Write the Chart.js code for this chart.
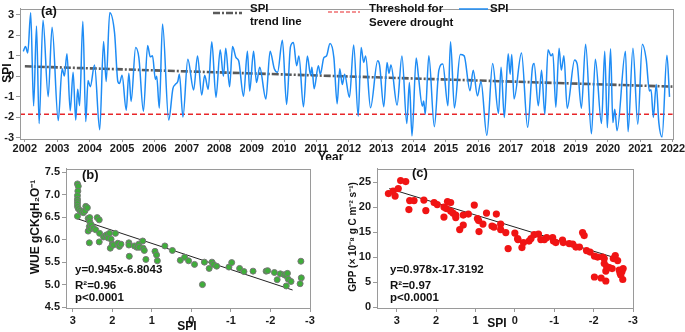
<!DOCTYPE html>
<html>
<head>
<meta charset="utf-8">
<script src="https://cdn.jsdelivr.net/npm/chart.js@4.4.1/dist/chart.umd.min.js"></script>
<style>
  html, body { margin: 0; padding: 0; background: #fff; }
  #wrap { position: relative; width: 685px; height: 332px; overflow: hidden; }
  canvas { position: absolute; }
</style>
</head>
<body>
<div id="wrap">
  <canvas id="spiChart" width="685" height="160" style="left:0;top:0"></canvas>
  <canvas id="wueChart" width="340" height="172" style="left:0;top:160px"></canvas>
  <canvas id="gppChart" width="345" height="172" style="left:340px;top:160px"></canvas>
</div>
<script>
// panel (a): monthly SPI (turning points)
const spiYears = [
  2001.95, 2002.02, 2002.09, 2002.18, 2002.27, 2002.36, 2002.44, 2002.56, 2002.72, 2002.84,
  2003.03, 2003.15, 2003.22, 2003.30, 2003.40, 2003.49, 2003.57, 2003.63, 2003.69, 2003.79,
  2003.88, 2003.95, 2004.02, 2004.15, 2004.31, 2004.43, 2004.51, 2004.62, 2004.77, 2004.87,
  2004.92, 2005.00, 2005.13, 2005.21, 2005.28, 2005.42, 2005.52, 2005.66, 2005.79, 2005.87,
  2005.94, 2006.03, 2006.07, 2006.15, 2006.25, 2006.44, 2006.57, 2006.64, 2006.72, 2006.77,
  2006.88, 2007.03, 2007.21, 2007.33, 2007.46, 2007.55, 2007.66, 2007.77, 2007.90, 2008.03,
  2008.13, 2008.20, 2008.32, 2008.41, 2008.52, 2008.60, 2008.75, 2008.87, 2008.94, 2009.06,
  2009.15, 2009.25, 2009.44, 2009.57, 2009.70, 2009.80, 2009.95, 2010.08, 2010.20, 2010.29,
  2010.39, 2010.46, 2010.60, 2010.72, 2010.82, 2010.86, 2010.93, 2011.06, 2011.12, 2011.23,
  2011.31, 2011.42, 2011.54, 2011.64, 2011.72, 2011.80, 2011.87, 2012.02, 2012.15, 2012.29,
  2012.38, 2012.46, 2012.52, 2012.67, 2012.89, 2012.95, 2013.08, 2013.18, 2013.24, 2013.30,
  2013.49, 2013.64, 2013.79, 2013.87, 2013.95, 2014.08, 2014.15, 2014.27, 2014.31, 2014.36,
  2014.47, 2014.64, 2014.78, 2014.90, 2015.06, 2015.14, 2015.26, 2015.44, 2015.56, 2015.74,
  2015.84, 2015.97, 2016.08, 2016.26, 2016.44, 2016.62, 2016.70, 2016.80, 2016.92, 2016.98,
  2017.03, 2017.10, 2017.33, 2017.52, 2017.67, 2017.72, 2017.85, 2017.95, 2018.05, 2018.15,
  2018.24, 2018.30, 2018.39, 2018.49, 2018.56, 2018.64, 2018.74, 2018.97, 2019.05, 2019.18,
  2019.31, 2019.49, 2019.61, 2019.80, 2019.90, 2019.98, 2020.08, 2020.15, 2020.21, 2020.28,
  2020.54, 2020.62, 2020.77, 2020.92, 2021.06, 2021.18, 2021.28, 2021.33, 2021.40, 2021.49,
  2021.57, 2021.67, 2021.82, 2021.90
];
const spiValues = [
  1.22, 1.45, 1.14, 3.1, -1.44, 2.45, -2.3, 2.73, -0.99, 2.39,
  -2.15, 0.37, 0.02, 1.1, -1.68, 0.2, -2.13, -0.63, -1.43, 2.68,
  -2.2, -0.2, -0.5, 0.55, -2.6, 1.7, -0.25, 3.1, 2.1, -0.25,
  -0.35, 0.05, -1.65, 0.15, -1.22, 1.4, 0.9, -1.7, 1.5, 0.95,
  1.0, -0.15, 0.0, -1.55, 2.55, -2.13, -0.6, -0.4, -0.25, 0.1,
  -1.98, 0.83, -0.66, 0.99, -0.91, 0.05, -0.63, 1.68, -1.02, 1.3,
  0.0, 1.37, -0.51, 1.45, 0.91, 0.76, -0.97, 1.22, -0.71, 1.22,
  -0.3, 0.45, -1.1, 1.22, 0.37, 0.2, 1.76, -1.37, 1.45, 1.65,
  0.52, 0.99, -1.48, 0.99, 0.06, 0.45, -0.6, 0.52, 0.1, 0.91,
  0.99, 1.6, 0.9, -1.33, 0.37, -0.4, 0.1, -1.02, 1.53, -1.94,
  1.4, 0.68, 0.99, -1.53, 0.76, 0.55, -1.48, 0.68, 0.15, 0.55,
  -1.4, 0.99, -2.3, -0.3, -2.9, 0.9, 0.0, -1.45, -1.2, -1.84,
  1.0, -2.45, 0.3, 0.6, -1.43, 1.68, -1.54, 1.06, 1.0, -0.7,
  0.3, -0.95, -0.25, -2.87, 0.63, -1.8, 0.45, -2.0, 1.1, 0.1,
  1.06, -1.1, 1.14, -2.48, 0.45, 0.63, -1.43, 0.3, -1.85, 1.3,
  1.0, 1.1, -1.5, 1.37, 0.3, 1.0, -1.55, 0.8, 0.6, -1.55,
  1.56, -2.8, 0.83, -2.3, 1.22, -2.5, 1.34, -2.25, -1.6, -2.65,
  1.22, -2.7, 1.37, -2.33, 1.56, 0.83, -0.71, -0.65, -2.0, -0.4,
  -2.25, -2.95, 1.03, -1.0
];
const trendYears = [2002, 2022];
const trendValues = [0.49, -0.5];
const thresholdYears = [2001.85, 2022];
const thresholdValues = [-1.85, -1.85];
const yearTicks = [2002, 2003, 2004, 2005, 2006, 2007, 2008, 2009, 2010, 2011, 2012,
  2013, 2014, 2015, 2016, 2017, 2018, 2019, 2020, 2021, 2022];
const spiTicks = [-3, -2, -1, 0, 1, 2, 3];

// panel (b): WUE against SPI
const wueSpi = [
  2.88, 2.86, 2.87, 2.88, 2.88, 2.88, 2.88, 2.88, 2.86, 2.82,
  2.88, 2.78, 2.73, 2.69, 2.67, 2.63, 2.61, 2.57, 2.57, 2.58,
  2.61, 2.55, 2.53, 2.58, 2.48, 2.42, 2.38, 2.33, 2.32, 2.33,
  2.22, 2.17, 2.13, 2.11, 2.07, 2.03, 2.00, 2.05, 1.97, 1.92,
  1.86, 1.82, 1.78, 1.58, 1.58, 1.57, 1.44, 1.38, 1.33, 1.32,
  1.23, 1.22, 1.19, 1.15, 0.92, 0.88, 0.86, 0.67, 0.48, 0.28,
  0.17, 0.07, -0.08, -0.28, -0.33, -0.45, -0.52, -0.56, -0.64, -0.95,
  -1.02, -1.22, -1.33, -1.56, -1.89, -1.93, -2.10, -2.17, -2.25, -2.35,
  -2.39, -2.40, -2.43, -2.45, -2.52, -2.77, -2.78, -2.75
];
const wueValues = [
  7.24, 7.19, 7.08, 6.98, 6.90, 6.85, 6.80, 6.74, 6.69, 6.65,
  6.52, 6.62, 6.60, 6.64, 6.74, 6.71, 6.47, 6.49, 6.40, 6.29,
  6.19, 6.24, 6.33, 5.93, 6.26, 6.22, 6.49, 6.44, 6.14, 5.95,
  6.06, 6.09, 6.11, 6.04, 6.14, 6.01, 5.90, 5.81, 5.88, 6.14,
  5.92, 5.85, 5.90, 5.93, 5.88, 5.63, 5.86, 5.83, 5.90, 5.83,
  5.97, 5.81, 5.76, 5.56, 5.74, 5.66, 5.53, 5.86, 5.76, 5.54,
  5.61, 5.53, 5.45, 5.00, 5.50, 5.36, 5.50, 5.45, 5.41, 5.39,
  5.49, 5.36, 5.29, 5.30, 5.30, 5.31, 5.27, 5.11, 5.24, 5.22,
  5.20, 4.97, 5.25, 5.12, 5.07, 5.52, 5.15, 5.02
];
const wueFitSpi = [2.9, -2.56];
const wueFitValues = [6.47, 4.88];
const wueTicks = [4.5, 5.0, 5.5, 6.0, 6.5, 7.0, 7.5];

// panel (c): GPP against SPI
const gppSpi = [
  3.21, 3.09, 3.04, 2.96, 2.90, 2.77, 2.69, 2.67, 2.56, 2.31,
  2.26, 2.05, 1.97, 1.80, 1.80, 1.74, 1.71, 1.63, 1.63, 1.57,
  1.50, 1.50, 1.40, 1.31, 1.31, 1.18, 1.03, 0.95, 0.92, 0.91,
  0.81, 0.72, 0.58, 0.53, 0.47, 0.36, 0.36, 0.23, 0.17, 0.00,
  -0.07, -0.08, -0.18, -0.22, -0.36, -0.41, -0.49, -0.60, -0.66, -0.75,
  -0.81, -0.96, -0.98, -1.04, -1.21, -1.23, -1.38, -1.47, -1.55, -1.64,
  -1.72, -1.76, -1.82, -1.91, -2.02, -2.02, -2.10, -2.19, -2.23, -2.27,
  -2.27, -2.31, -2.31, -2.33, -2.40, -2.47, -2.50, -2.55, -2.61, -2.65,
  -2.67, -2.72, -2.74, -2.75, -2.69
];
const gppValues = [
  22.7, 23.2, 22.2, 23.7, 25.3, 25.1, 19.5, 21.3, 21.3, 21.4,
  19.3, 20.9, 20.5, 18.0, 20.0, 19.7, 21.1, 20.9, 19.2, 18.8,
  18.4, 17.9, 15.5, 16.4, 18.4, 18.6, 20.4, 17.7, 17.3, 15.1,
  16.6, 18.8, 16.2, 16.0, 18.6, 16.6, 15.5, 14.9, 11.7, 14.8,
  13.7, 13.5, 11.9, 12.9, 13.2, 13.7, 14.5, 14.6, 13.5, 13.5,
  13.9, 13.9, 13.2, 12.9, 13.4, 12.9, 12.7, 12.6, 12.0, 12.0,
  14.9, 14.3, 11.3, 11.0, 10.2, 6.0, 10.0, 5.8, 10.0, 9.7,
  8.7, 7.2, 5.2, 8.1, 7.9, 7.7, 9.7, 10.3, 9.3, 7.4,
  6.8, 7.1, 5.5, 7.7, 6.4
];
const gppFitSpi = [3.19, -2.65];
const gppFitValues = [23.7, 9.6];
const gppTicks = [0, 5, 10, 15, 20, 25];
const scatterSpiTicks = [-3, -2, -1, 0, 1, 2, 3];

const FONT = '"Liberation Sans", Arial, sans-serif';
const tickFont = { family: FONT, size: 11, weight: 'bold' };
const AXIS_COLOR = '#9a9a9a';

const toPoints = (xs, ys) => xs.map((x, i) => ({ x: x, y: ys[i] }));

// draws the plot frame, free text and hand made legend entries
function decor(texts, legend) {
  return {
    id: 'decor',
    afterDraw(chart) {
      const { ctx, chartArea: a } = chart;
      ctx.save();
      ctx.strokeStyle = AXIS_COLOR;
      ctx.lineWidth = 1;
      ctx.strokeRect(Math.round(a.left) + 0.5, Math.round(a.top) + 0.5,
        Math.round(a.right - a.left), Math.round(a.bottom - a.top));
      (legend || []).forEach(l => {
        ctx.beginPath();
        ctx.strokeStyle = l.color;
        ctx.lineWidth = l.width;
        ctx.setLineDash(l.dash || []);
        ctx.moveTo(l.x1, l.y);
        ctx.lineTo(l.x2, l.y);
        ctx.stroke();
      });
      ctx.setLineDash([]);
      ctx.fillStyle = '#111';
      ctx.textBaseline = 'middle';
      texts.forEach(t => {
        ctx.font = (t.size ? 'bold ' + t.size + 'px ' : 'bold 12px ') + FONT;
        if (t.rotate) {
          ctx.save();
          ctx.textAlign = 'center';
          ctx.translate(t.x, t.y);
          ctx.rotate(-Math.PI / 2);
          ctx.fillText(t.text, 0, 0);
          ctx.restore();
        } else {
          ctx.textAlign = t.align || 'left';
          ctx.fillText(t.text, t.x, t.y);
        }
      });
      ctx.restore();
    }
  };
}

function axis(min, max, ticks, fmt, fit, extra, tick) {
  const t = tick || { len: 4, pad: 2 };
  return Object.assign({
    type: 'linear',
    min: min,
    max: max,
    afterBuildTicks: s => { s.ticks = ticks.map(v => ({ value: v })); },
    afterFit: fit,
    ticks: { autoSkip: false, maxRotation: 0, padding: t.pad, font: tickFont, color: '#1a1a1a', callback: fmt },
    grid: { drawOnChartArea: false, tickLength: t.len, color: AXIS_COLOR },
    border: { color: AXIS_COLOR }
  }, extra || {});
}

// (a) SPI time series
new Chart(document.getElementById('spiChart').getContext('2d'), {
  type: 'scatter',
  data: {
    datasets: [
      {
        label: 'SPI',
        data: toPoints(spiYears, spiValues),
        showLine: true,
        borderColor: '#1e8cf5',
        borderWidth: 1.5,
        pointRadius: 0,
        cubicInterpolationMode: 'monotone'
      },
      {
        label: 'Threshold for Severe drought',
        data: toPoints(thresholdYears, thresholdValues),
        showLine: true,
        borderColor: '#e8262a',
        borderWidth: 1.5,
        borderDash: [5, 3],
        pointRadius: 0
      },
      {
        label: 'SPI trend line',
        data: toPoints(trendYears, trendValues),
        showLine: true,
        borderColor: '#5a5a5a',
        borderWidth: 2.6,
        borderDash: [7, 2, 2, 2],
        pointRadius: 0
      }
    ]
  },
  options: {
    responsive: false,
    animation: false,
    layout: { padding: { top: 2, right: 11, left: 0, bottom: 0 } },
    plugins: { legend: { display: false }, tooltip: { enabled: false } },
    scales: {
      x: axis(2001.85, 2022, yearTicks, v => String(v), s => { s.height = 21; }, null, { len: 3, pad: 0 }),
      y: axis(-3.05, 3.3, spiTicks, v => String(v), s => { s.width = 20; })
    }
  },
  plugins: [decor([
    { text: '(a)', x: 41, y: 11, size: 13 },
    { text: 'SPI', x: 8, y: 73, rotate: true },
    { text: 'Year', x: 318, y: 158 },
    { text: 'SPI', x: 250, y: 9, size: 11.5 },
    { text: 'trend line', x: 250, y: 22, size: 11.5 },
    { text: 'Threshold for', x: 369, y: 9, size: 11.5 },
    { text: 'Severe drought', x: 369, y: 23, size: 11.5 },
    { text: 'SPI', x: 490, y: 9, size: 11.5 }
  ], [
    { x1: 213, x2: 242, y: 13, color: '#5a5a5a', width: 2.6, dash: [7, 2, 2, 2] },
    { x1: 328, x2: 360, y: 12, color: '#e8262a', width: 1.2, dash: [4, 2] },
    { x1: 459, x2: 488, y: 9, color: '#1e8cf5', width: 1.5 }
  ])]
});

// (b) WUE vs SPI
new Chart(document.getElementById('wueChart').getContext('2d'), {
  type: 'scatter',
  data: {
    datasets: [
      {
        label: 'WUE',
        data: toPoints(wueSpi, wueValues),
        pointRadius: 3,
        pointBackgroundColor: '#3fae3a',
        pointBorderColor: '#777',
        pointBorderWidth: 1
      },
      {
        label: 'fit',
        data: toPoints(wueFitSpi, wueFitValues),
        showLine: true,
        borderColor: '#222',
        borderWidth: 1,
        pointRadius: 0
      }
    ]
  },
  options: {
    responsive: false,
    animation: false,
    layout: { padding: { top: 3, right: 30, left: 0, bottom: 0 } },
    plugins: { legend: { display: false }, tooltip: { enabled: false } },
    scales: {
      x: axis(-3, 3.17, scatterSpiTicks, v => String(v), s => { s.height = 24; }, { reverse: true }),
      y: axis(4.48, 7.58, wueTicks, v => v.toFixed(1), s => { s.width = 66; })
    }
  },
  plugins: [decor([
    { text: '(b)', x: 82, y: 15, size: 13 },
    { text: 'WUE gCKgH\u2082O\u207B\u00B9', x: 36, y: 67, rotate: true },
    { text: 'y=0.945x-6.8043', x: 75, y: 110, size: 11.5 },
    { text: 'R\u00B2=0.96', x: 75, y: 126, size: 11.5 },
    { text: 'p<0.0001', x: 75, y: 138, size: 11.5 },
    { text: 'SPI', x: 187, y: 167, align: 'center' }
  ])]
});

// (c) GPP vs SPI
new Chart(document.getElementById('gppChart').getContext('2d'), {
  type: 'scatter',
  data: {
    datasets: [
      {
        label: 'GPP',
        data: toPoints(gppSpi, gppValues),
        pointRadius: 3.6,
        pointBackgroundColor: '#f01414',
        pointBorderWidth: 0
      },
      {
        label: 'fit',
        data: toPoints(gppFitSpi, gppFitValues),
        showLine: true,
        borderColor: '#222',
        borderWidth: 1,
        pointRadius: 0
      }
    ]
  },
  options: {
    responsive: false,
    animation: false,
    layout: { padding: { top: 3, right: 52, left: 0, bottom: 0 } },
    plugins: { legend: { display: false }, tooltip: { enabled: false } },
    scales: {
      x: axis(-3, 3.5, scatterSpiTicks, v => String(v), s => { s.height = 24; }, { reverse: true }),
      y: axis(-0.2, 27.7, gppTicks, v => String(v), s => { s.width = 37; })
    }
  },
  plugins: [decor([
    { text: '(c)', x: 72, y: 13, size: 13 },
    { text: 'GPP (\u00D7 10\u207B\u2078 g C m\u207B\u00B2 s\u207B\u00B9)', x: 13, y: 77, rotate: true, size: 10 },
    { text: 'y=0.978x-17.3192', x: 50, y: 110, size: 11.5 },
    { text: 'R\u00B2=0.97', x: 50, y: 126, size: 11.5 },
    { text: 'p<0.0001', x: 50, y: 138, size: 11.5 },
    { text: 'SPI', x: 157, y: 164, align: 'center' }
  ])]
});
</script>
</body>
</html>
